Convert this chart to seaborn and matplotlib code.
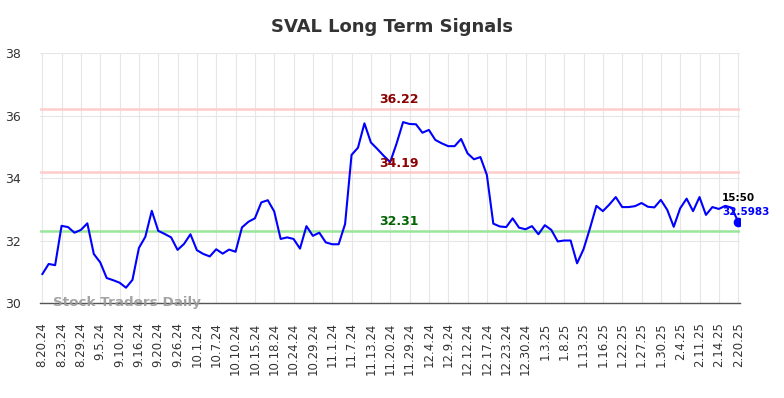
import numpy as np
import pandas as pd
import seaborn as sns
import matplotlib.pyplot as plt

# closing prices, one per trading point (labels every 3rd point)
prices = [
    30.92, 31.25, 31.21, 32.47, 32.43, 32.25, 32.34, 32.55, 31.57, 31.30,
    30.80, 30.73, 30.65, 30.49, 30.74, 31.76, 32.12, 32.95, 32.31, 32.21,
    32.10, 31.70, 31.89, 32.20, 31.69, 31.57, 31.49, 31.72, 31.58, 31.71,
    31.64, 32.42, 32.60, 32.71, 33.22, 33.29, 32.93, 32.05, 32.10, 32.05,
    31.74, 32.46, 32.15, 32.25, 31.94, 31.88, 31.88, 32.53, 34.74, 34.97,
    35.75, 35.14, 34.93, 34.71, 34.51, 35.11, 35.79, 35.73, 35.72, 35.45,
    35.54, 35.22, 35.11, 35.02, 35.02, 35.25, 34.79, 34.60, 34.67, 34.10,
    32.54, 32.45, 32.43, 32.71, 32.41, 32.36, 32.46, 32.20, 32.49, 32.34,
    31.97, 32.00, 32.00, 31.27, 31.72, 32.39, 33.11, 32.94, 33.15, 33.39,
    33.07, 33.07, 33.10, 33.20, 33.08, 33.06, 33.30, 32.98, 32.44, 33.03,
    33.34, 32.94, 33.39, 32.82, 33.07, 33.01, 33.11, 33.05, 32.5983,
]

tick_labels = [
    "8.20.24", "8.23.24", "8.29.24", "9.5.24", "9.10.24", "9.16.24", "9.20.24",
    "9.26.24", "10.1.24", "10.7.24", "10.10.24", "10.15.24", "10.18.24",
    "10.24.24", "10.29.24", "11.1.24", "11.7.24", "11.13.24", "11.20.24",
    "11.29.24", "12.4.24", "12.9.24", "12.12.24", "12.17.24", "12.23.24",
    "12.30.24", "1.3.25", "1.8.25", "1.13.25", "1.16.25", "1.22.25",
    "1.27.25", "1.30.25", "2.4.25", "2.11.25", "2.14.25", "2.20.25",
]

upper_levels = [36.22, 34.19]
lower_level = 32.31
last_time = "15:50"

df = pd.DataFrame({"idx": np.arange(len(prices)), "price": prices})

sns.set_style("whitegrid", {"grid.color": "#e6e6e6"})
plt.rcParams['font.family'] = ['DejaVu Sans']

fig = plt.figure(figsize=(7.84, 3.98), dpi=100)
ax = fig.add_axes([0.051, 0.2387, 0.893, 0.628])

sns.lineplot(data=df, x="idx", y="price", color="#0000ff", linewidth=1.5, ax=ax, zorder=3)

# signal levels, labels sit a little right of the middle
label_x = 55.4
for lvl in upper_levels:
    ax.axhline(lvl, color="#ffcccc", linewidth=1.8, zorder=2)
    ax.text(label_x, lvl + 0.08, f"{lvl:.2f}", color="#8b0000",
            fontsize=9, fontweight="bold", ha="center", va="bottom")
ax.axhline(lower_level, color="#99e699", linewidth=1.8, zorder=2)
ax.text(label_x, lower_level + 0.08, f"{lower_level:.2f}", color="#006400",
        fontsize=9, fontweight="bold", ha="center", va="bottom")

# last point marker
last_i = len(prices) - 1
ax.scatter([last_i], [prices[-1]], s=35, color="#0000ff", zorder=4)
ax.text(last_i - 2.5, prices[-1] + 0.6, last_time, fontsize=7.5, fontweight="bold",
        color="black", ha="left", va="bottom")
ax.text(last_i - 2.5, prices[-1] + 0.17, f"{prices[-1]:.4f}", fontsize=7.5,
        fontweight="bold", color="#0000ff", ha="left", va="bottom")

# watermark
ax.text(1.66, 30.0, "Stock Traders Daily", fontsize=9.7, fontweight="bold",
        color="#999999", alpha=0.9, ha="left", va="center")

ax.set_xticks(np.arange(0, len(prices), 3))
ax.set_xticklabels(tick_labels, rotation=90, fontsize=8.5)
ax.set_yticks([30, 32, 34, 36, 38])
ax.tick_params(axis="y", labelsize=9, colors="#333333", length=0, pad=14)
ax.tick_params(axis="x", colors="#333333", length=0, pad=14)
ax.set_xlim(-0.35, 108.3)
ax.set_ylim(30, 38)
ax.set_xlabel("")
ax.set_ylabel("")

for s in ["left", "right", "top"]:
    ax.spines[s].set_visible(False)
ax.spines["bottom"].set_color("#555555")
ax.spines["bottom"].set_linewidth(1)

fig.suptitle("SVAL Long Term Signals", x=0.5, y=0.955, fontsize=13,
             fontweight="bold", color="#333333")

fig.savefig("out.png", dpi=100)
